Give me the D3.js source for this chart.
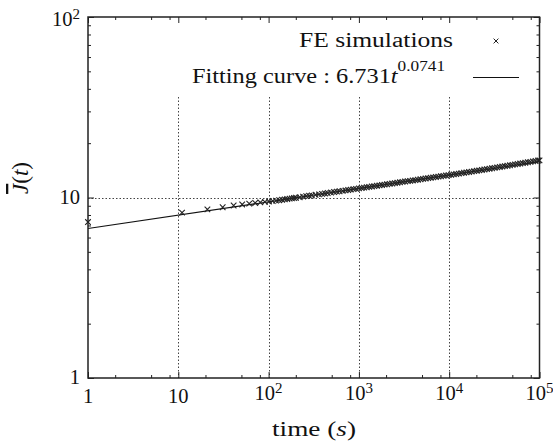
<!DOCTYPE html>
<html><head><meta charset="utf-8">
<script src="https://cdn.jsdelivr.net/npm/d3@7"></script>
<style>body{margin:0;background:#fff}svg{display:block}</style>
</head><body>
<svg id="c" width="553" height="446"></svg>
<script>
// ---- data ----
const simTime = [1, 11, 21, 31, 41, 51, 61, 71, 81, 91, 101, 111, 121, 131, 141, 151, 161, 171, 181, 191,
  201, 221, 241, 261, 281, 301, 331, 361, 391, 421, 451, 491, 531, 571, 611, 661, 711, 761, 811, 871,
  931, 1001, 1071, 1141, 1221, 1301, 1391, 1481, 1581, 1691, 1801, 1921, 2051, 2191, 2341, 2501, 2671,
  2851, 3041, 3251, 3471, 3701, 3951, 4221, 4501, 4811, 5131, 5481, 5851, 6241, 6661, 7111, 7591, 8101,
  8651, 9231, 9851, 10511, 11221, 11981, 12791, 13651, 14571, 15551, 16601, 17721, 18911, 20191, 21551,
  23001, 24551, 26211, 27971, 29861, 31871, 34021, 36311, 38761, 41371, 44161, 47131, 50311, 53701,
  57321, 61181, 65301, 69701, 74401, 79411, 84761, 90471, 96571, 99991];
const simJ = [7.31, 8.25, 8.60, 8.83, 9.03, 9.15, 9.25, 9.33, 9.40, 9.46, 9.51, 9.56, 9.61, 9.66, 9.71, 9.76, 9.81, 9.85, 9.89, 9.93,
  9.97, 10.04, 10.11, 10.17, 10.22, 10.27, 10.35, 10.41, 10.48, 10.53, 10.59, 10.65, 10.72, 10.77, 10.83, 10.89, 10.95, 11.00, 11.06, 11.12,
  11.17, 11.23, 11.29, 11.34, 11.40, 11.45, 11.51, 11.56, 11.62, 11.68, 11.73, 11.79, 11.84, 11.90, 11.96, 12.02, 12.08,
  12.14, 12.20, 12.26, 12.32, 12.37, 12.43, 12.49, 12.55, 12.62, 12.68, 12.74, 12.80, 12.86, 12.92, 12.99, 13.05, 13.11,
  13.18, 13.24, 13.30, 13.37, 13.43, 13.50, 13.57, 13.64, 13.71, 13.78, 13.85, 13.92, 13.99, 14.06, 14.14,
  14.21, 14.29, 14.36, 14.44, 14.52, 14.60, 14.68, 14.76, 14.84, 14.92, 15.00, 15.08, 15.17, 15.25,
  15.33, 15.42, 15.50, 15.59, 15.68, 15.76, 15.85, 15.93, 16.02, 16.07];
const fitTime = [1, 100000];
const fitJ = [6.731, 15.80];

const xTickValues = [1, 10, 100, 1000, 10000, 100000];
const xTickBase = ["1", "10", "10", "10", "10", "10"];
const xTickExp = ["", "", "2", "3", "4", "5"];
const yTickValues = [1, 10, 100];
const yTickBase = ["1", "10", "10"];
const yTickExp = ["", "", "2"];
const xMinorMultipliers = [2, 5, 8];
const yMinorMultipliers = [2, 3, 4, 5, 6, 7, 8, 9];
const xGridValues = [10, 100, 1000, 10000];
const yGridValues = [10];
const legendSim = "FE simulations";
const legendFitText = "Fitting curve : 6.731";
const legendFitVar = "t";
const legendFitExp = "0.0741";
const xTitle = "time";
const xTitleVar = "s";

// ---- layout ----
const L = 88, R = 539.5, T = 17, B = 378;
const svg = d3.select("#c");
const FONT = "Liberation Serif, serif";
svg.attr("font-family", FONT);

const x = d3.scaleLog().domain([1, 1e5]).range([L, R]);
const y = d3.scaleLog().domain([1, 100]).range([B, T]);

const xMinor = [];
for (let d = 1; d < 1e5; d *= 10) xMinorMultipliers.forEach(m => xMinor.push(d * m));
const yMinor = [];
for (let d = 1; d < 100; d *= 10) yMinorMultipliers.forEach(m => yMinor.push(d * m));

// grid
const grid = svg.append("g").attr("stroke", "#444").attr("stroke-width", 1).attr("stroke-dasharray", "1.5,2");
grid.selectAll("line.v").data(xGridValues).join("line").attr("class", "v")
  .attr("x1", d => Math.round(x(d)) + 0.5).attr("x2", d => Math.round(x(d)) + 0.5)
  .attr("y1", 97).attr("y2", B);
grid.selectAll("line.h").data(yGridValues).join("line").attr("class", "h")
  .attr("x1", L).attr("x2", R)
  .attr("y1", d => Math.round(y(d)) + 0.5).attr("y2", d => Math.round(y(d)) + 0.5);

// axes ticks (inward)
function ticks(axisFn, scale, vals, size, tr) {
  const g = svg.append("g").attr("transform", tr)
    .call(axisFn(scale).tickValues(vals).tickSize(-size).tickFormat(""));
  g.select(".domain").remove();
  g.selectAll(".tick line").attr("stroke", "#222").attr("stroke-width", 1);
  return g;
}
ticks(d3.axisBottom, x, xTickValues, 6, `translate(0,${B})`);
ticks(d3.axisBottom, x, xMinor, 3, `translate(0,${B})`);
ticks(d3.axisTop, x, xTickValues, 6, `translate(0,${T})`);
ticks(d3.axisTop, x, xMinor, 3, `translate(0,${T})`);
ticks(d3.axisLeft, y, yTickValues, 6, `translate(${L},0)`);
ticks(d3.axisLeft, y, yMinor, 3, `translate(${L},0)`);
ticks(d3.axisRight, y, yTickValues, 6, `translate(${R},0)`);
ticks(d3.axisRight, y, yMinor, 3, `translate(${R},0)`);

// data
const clip = svg.append("clipPath").attr("id", "clip").append("rect")
  .attr("x", L - 4).attr("y", T).attr("width", R - L + 8).attr("height", B - T);
const plot = svg.append("g").attr("clip-path", "url(#clip)");
const line = d3.line().x(d => x(d[0])).y(d => y(d[1]));
plot.append("path").datum(fitTime.map((t, i) => [t, fitJ[i]]))
  .attr("d", line).attr("fill", "none").attr("stroke", "#111").attr("stroke-width", 1.1);
const cross = "M-2.8,-2.8L2.8,2.8M-2.8,2.8L2.8,-2.8";
plot.selectAll("path.pt").data(simTime.map((t, i) => [t, simJ[i]])).join("path")
  .attr("class", "pt").attr("d", cross)
  .attr("transform", d => `translate(${x(d[0])},${y(d[1])})`)
  .attr("fill", "none").attr("stroke", "#222").attr("stroke-width", 1.1);

// frame
svg.append("rect").attr("x", L).attr("y", T).attr("width", R - L).attr("height", B - T)
  .attr("fill", "none").attr("stroke", "#222").attr("stroke-width", 1.5);

// tick labels
xTickValues.forEach((v, i) => {
  const t = svg.append("text").attr("x", x(v)).attr("y", xTickExp[i] ? 400 : 403)
    .attr("text-anchor", "middle").attr("font-size", 20.5).attr("fill", "#111");
  t.append("tspan").text(xTickBase[i]);
  if (xTickExp[i]) t.append("tspan").attr("dy", -7).attr("font-size", 15).text(xTickExp[i]);
});
yTickValues.forEach((v, i) => {
  const t = svg.append("text").attr("x", 80).attr("y", y(v) + (yTickExp[i] ? 9 : 6))
    .attr("text-anchor", "end").attr("font-size", 20.5).attr("fill", "#111");
  t.append("tspan").text(yTickBase[i]);
  if (yTickExp[i]) t.append("tspan").attr("dy", -7).attr("font-size", 15).text(yTickExp[i]);
});

// axis titles
const xt = svg.append("text").attr("x", 314).attr("y", 436).attr("text-anchor", "middle")
  .attr("font-size", 22).attr("fill", "#111").attr("textLength", 84).attr("lengthAdjust", "spacingAndGlyphs");
xt.append("tspan").text(xTitle + " (");
xt.append("tspan").attr("font-style", "italic").text(xTitleVar);
xt.append("tspan").text(")");

const yt = svg.append("text").attr("transform", "translate(28,178) rotate(-90)")
  .attr("text-anchor", "middle").attr("font-size", 23).attr("fill", "#111");
yt.append("tspan").attr("font-style", "italic").style("text-decoration", "overline").text("J");
yt.append("tspan").text("(");
yt.append("tspan").attr("font-style", "italic").text("t");
yt.append("tspan").text(")");

// legend
svg.append("text").attr("x", 453).attr("y", 47).attr("text-anchor", "end")
  .attr("font-size", 20.5).attr("fill", "#111")
  .attr("textLength", 154).attr("lengthAdjust", "spacingAndGlyphs").text(legendSim);
svg.append("path").attr("d", "M-2.4,-2.4L2.4,2.4M-2.4,2.4L2.4,-2.4").attr("transform", "translate(496,41)")
  .attr("fill", "none").attr("stroke", "#222").attr("stroke-width", 1);
const lf = svg.append("text").attr("x", 445).attr("y", 83).attr("text-anchor", "end")
  .attr("font-size", 20.5).attr("fill", "#111")
  .attr("textLength", 253).attr("lengthAdjust", "spacingAndGlyphs");
lf.append("tspan").text(legendFitText);
lf.append("tspan").attr("font-style", "italic").text(legendFitVar);
lf.append("tspan").attr("dy", -12).attr("font-size", 14.5).text(legendFitExp);
svg.append("line").attr("x1", 473).attr("x2", 519).attr("y1", 77.5).attr("y2", 77.5)
  .attr("stroke", "#111").attr("stroke-width", 1);
</script>
</body></html>
